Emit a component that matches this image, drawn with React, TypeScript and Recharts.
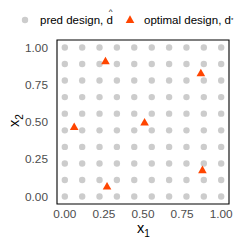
import React from "react";
import { ScatterChart, Scatter, XAxis, YAxis, ReferenceArea } from "recharts";

const gridValues = [0, 0.111, 0.222, 0.333, 0.444, 0.556, 0.667, 0.778, 0.889, 1];
const optimalX1 = [0.26, 0.87, 0.06, 0.51, 0.27, 0.88];
const optimalX2 = [0.91, 0.83, 0.47, 0.5, 0.07, 0.18];
const tickValues = [0, 0.25, 0.5, 0.75, 1];
const legendLabels = ["pred design, ", "optimal design, "];

const predData = gridValues.flatMap((a) => gridValues.map((b) => ({ x1: a, x2: b })));
const optData = optimalX1.map((v, i) => ({ x1: v, x2: optimalX2[i] }));

const FONT = "'Liberation Sans', Arial, Helvetica, sans-serif";
const GREY = "#CCCCCC";
const ORANGE = "#FF4500";

const Dot = (props: any) => <circle cx={props.cx} cy={props.cy} r={3.2} fill={GREY} />;
const Tri = (props: any) => {
  const { cx, cy } = props;
  const s = 4.3;
  return (
    <polygon
      points={`${cx - s},${cy + s * 0.8} ${cx + s},${cy + s * 0.8} ${cx},${cy - s * 0.95}`}
      fill={ORANGE}
    />
  );
};

export default function App() {
  return (
    <div style={{ position: "absolute", left: 0, top: 0, width: 249, height: 249, background: "#fff" }}>
      <ScatterChart width={249} height={249} margin={{ top: 40, right: 20, bottom: 0, left: 0 }}>
        <XAxis
          type="number"
          dataKey="x1"
          domain={[-0.05, 1.05]}
          ticks={tickValues}
          tickFormatter={(v: number) => v.toFixed(2)}
          height={45}
          axisLine={false}
          tickLine={false}
          tick={{ fill: "#4D4D4D", fontSize: 11.8, fontFamily: FONT }}
          tickMargin={0}
          allowDataOverflow
        />
        <YAxis
          type="number"
          dataKey="x2"
          domain={[-0.05, 1.05]}
          ticks={tickValues}
          tickFormatter={(v: number) => v.toFixed(2)}
          width={57}
          axisLine={false}
          tickLine={false}
          tick={{ fill: "#4D4D4D", fontSize: 11.8, fontFamily: FONT }}
          tickMargin={3}
          allowDataOverflow
        />
        <Scatter data={predData} shape={Dot} isAnimationActive={false} />
        <Scatter data={optData} shape={Tri} isAnimationActive={false} />
        <ReferenceArea
          x1={-0.05}
          x2={1.05}
          y1={-0.05}
          y2={1.05}
          fill="none"
          fillOpacity={0}
          stroke="#000"
          strokeWidth={1.1}
          ifOverflow="visible"
        />
      </ScatterChart>
      <svg
        width={249}
        height={249}
        style={{ position: "absolute", left: 0, top: 0, pointerEvents: "none" }}
      >
        <g fontFamily={FONT}>
          <circle cx={25} cy={20} r={3.2} fill={GREY} />
          <text x={40} y={24} fontSize={11.5} fill="#000">
            {legendLabels[0]}
            <tspan>d</tspan>
          </text>
          <text x={108.8} y={13.5} fontSize={8} fill="#000">^</text>
          <polygon points="125.7,23 134.3,23 130,15.2" fill={ORANGE} />
          <text x={144} y={24} fontSize={11.5} fill="#000">
            {legendLabels[1]}d
            <tspan fontSize={6} dy={-2}>*</tspan>
          </text>
          <text x={137} y={233} fontSize={14.5} fill="#000">
            x<tspan fontSize={10} dy={4}>1</tspan>
          </text>
          <text transform="translate(19,127) rotate(-90)" fontSize={14.5} fill="#000">
            x<tspan fontSize={10} dy={4}>2</tspan>
          </text>
        </g>
      </svg>
    </div>
  );
}
